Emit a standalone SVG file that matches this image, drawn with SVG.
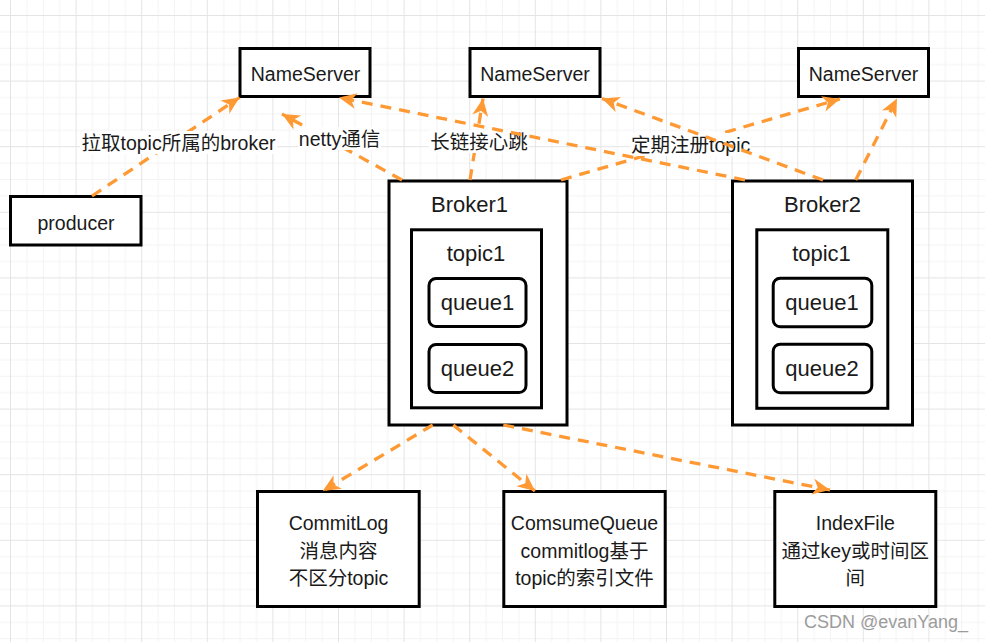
<svg xmlns="http://www.w3.org/2000/svg" width="985" height="642" viewBox="0 0 985 642">
<defs>
<pattern id="grid" x="10" y="15" width="65.6" height="65.6" patternUnits="userSpaceOnUse">
<path d="M16.9 0V65.6M33.3 0V65.6M49.7 0V65.6M0 16.9H65.6M0 33.3H65.6M0 49.7H65.6" stroke="#f3f3f3" stroke-width="1" fill="none"/>
<path d="M0.5 0V65.6M0 0.5H65.6" stroke="#e4e4e4" stroke-width="1" fill="none"/>
</pattern>
<marker id="arr" viewBox="-18 -9 19 18" refX="0" refY="0" markerWidth="19" markerHeight="18" markerUnits="userSpaceOnUse" orient="auto">
<path d="M0 0L-17.5 -8L-12.5 0L-17.5 8Z" fill="#FF9933"/>
</marker>
</defs>
<style>
.box{fill:#fff;stroke:#000;stroke-width:3}
.t{font-family:"Liberation Sans","Noto Sans CJK SC",sans-serif;font-size:19.5px;fill:#1a1a1a;text-anchor:middle;dominant-baseline:central}
.b{font-size:22px}
.e{fill:none;stroke:#FF9933;stroke-width:3.3;stroke-dasharray:11 8;marker-end:url(#arr)}
.lb{fill:#fff}
</style>
<rect width="985" height="642" fill="#fff"/>
<rect width="985" height="642" fill="url(#grid)"/>

<g id="ns1"><rect class="box" x="240" y="48.5" width="130" height="48"/><text class="t" x="305.5" y="73.5">NameServer</text></g>
<g id="ns2"><rect class="box" x="470" y="48.5" width="130" height="48"/><text class="t" x="535" y="73.5">NameServer</text></g>
<g id="ns3"><rect class="box" x="798.5" y="48.5" width="130" height="48"/><text class="t" x="863.5" y="73.5">NameServer</text></g>
<g id="producer"><rect class="box" x="10.5" y="196.5" width="130.5" height="48.5"/><text class="t" x="76" y="222.5">producer</text></g>

<g id="broker1">
<rect class="box" x="389" y="181" width="178" height="244"/>
<text class="t b" x="469.5" y="204">Broker1</text>
<rect class="box" x="411.5" y="229.8" width="130" height="178"/>
<text class="t b" x="476" y="253.5">topic1</text>
<rect class="box" x="429" y="278.5" width="97" height="48" rx="7"/>
<text class="t b" x="477.5" y="302">queue1</text>
<rect class="box" x="429" y="344.5" width="97" height="48" rx="7"/>
<text class="t b" x="477.5" y="368">queue2</text>
</g>
<g id="broker2">
<rect class="box" x="732.5" y="181" width="180" height="244"/>
<text class="t b" x="822.5" y="204">Broker2</text>
<rect class="box" x="756.8" y="229.8" width="131" height="178.5"/>
<text class="t b" x="821.5" y="253.5">topic1</text>
<rect class="box" x="773.2" y="278.2" width="98.6" height="48.6" rx="7"/>
<text class="t b" x="822" y="302">queue1</text>
<rect class="box" x="773.2" y="344.2" width="98.6" height="48.6" rx="7"/>
<text class="t b" x="822" y="368">queue2</text>
</g>

<g id="commitlog"><rect class="box" x="257.5" y="491.5" width="161.7" height="115"/>
<text class="t" x="338.5" y="523">CommitLog</text><text class="t" x="338.5" y="550.6">消息内容</text><text class="t" x="338.5" y="578.2">不区分topic</text></g>
<g id="consumequeue"><rect class="box" x="503.8" y="491.5" width="161.4" height="115"/>
<text class="t" x="584.5" y="523">ComsumeQueue</text><text class="t" x="584.5" y="550.6">commitlog基于</text><text class="t" x="584.5" y="578.2">topic的索引文件</text></g>
<g id="indexfile"><rect class="box" x="774.8" y="491.5" width="161" height="115"/>
<text class="t" x="855.3" y="523">IndexFile</text><text class="t" x="855.3" y="550.6">通过key或时间区</text><text class="t" x="855.3" y="578.2">间</text></g>

<g id="connectors">
<path class="e" d="M92 196L239.5 97.5"/>
<rect class="lb" x="80" y="131" width="197" height="23"/>
<text class="t" x="178.5" y="142.5">拉取topic所属的broker</text>

<path class="e" d="M402 180L282 114"/>
<rect class="lb" x="298" y="127" width="83" height="23"/>
<text class="t" x="339.5" y="138.5">netty通信</text>

<path class="e" d="M470 180L483 98.5"/>
<rect class="lb" x="429" y="130" width="100" height="23"/>
<text class="t" x="479" y="141.5">长链接心跳</text>

<path class="e" d="M561 180L840 99"/>
<rect class="lb" x="630" y="133" width="121" height="23"/>
<text class="t" x="690.7" y="144.5">定期注册topic</text>

<path class="e" d="M745 180L339 97.5"/>
<path class="e" d="M823 180L602 98.5"/>
<path class="e" d="M855.7 180L897 98.5"/>

<path class="e" d="M432.7 425L322.7 491"/>
<path class="e" d="M453.3 425L535 491"/>
<path class="e" d="M503.3 425L830 490"/>
</g>

<text x="886" y="622" font-family="Liberation Sans, sans-serif" font-size="18px" fill="#9c9c9c" text-anchor="middle" dominant-baseline="central">CSDN @evanYang_</text>
</svg>
